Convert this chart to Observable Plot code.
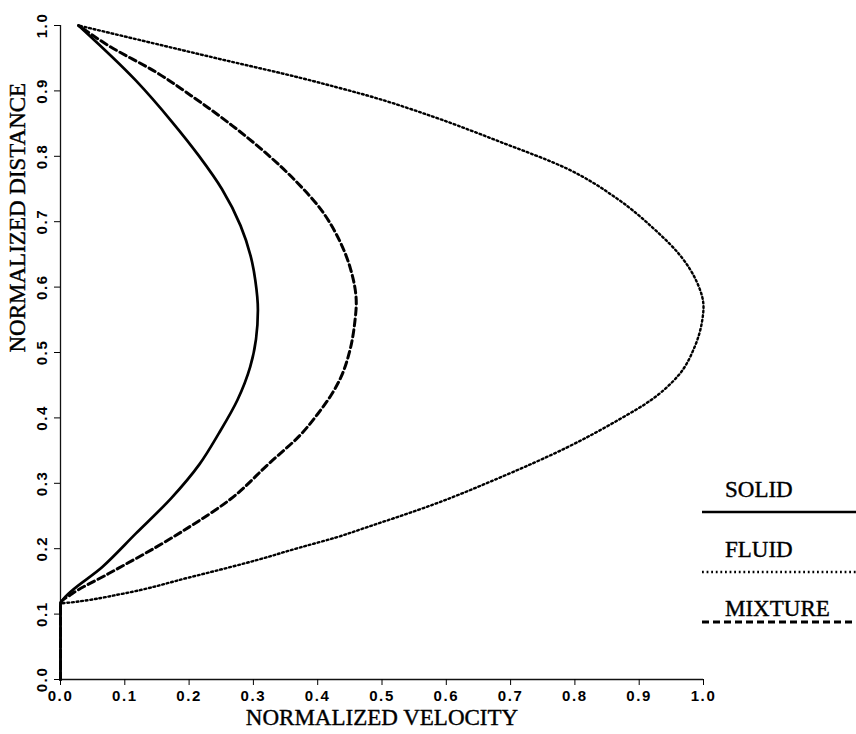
<!DOCTYPE html>
<html><head><meta charset="utf-8">
<script src="https://cdn.jsdelivr.net/npm/d3@7"></script>
<script src="https://cdn.jsdelivr.net/npm/@observablehq/plot@0.6"></script>
<style>
body{margin:0;background:#fff;}
#wrap{position:relative;width:856px;height:734px;overflow:hidden;}
#legend{position:absolute;left:0;top:0;pointer-events:none;}
</style></head><body><div id="wrap"></div>
<script>
const xTicks = [0, 0.1, 0.2, 0.3, 0.4, 0.5, 0.6, 0.7, 0.8, 0.9, 1.0];
const yTicks = [0, 0.1, 0.2, 0.3, 0.4, 0.5, 0.6, 0.7, 0.8, 0.9, 1.0];
const xTitle = "NORMALIZED VELOCITY";
const yTitle = "NORMALIZED DISTANCE";
const seriesNames = ["SOLID", "FLUID", "MIXTURE"];

const solidV = [0, 0, 0.003, 0.065, 0.117, 0.172, 0.216, 0.246, 0.275, 0.295, 0.304, 0.307, 0.303, 0.298, 0.280, 0.251, 0.215, 0.174, 0.117, 0.028];
const solidY = [0, 0.116, 0.121, 0.172, 0.223, 0.277, 0.329, 0.376, 0.427, 0.478, 0.520, 0.565, 0.610, 0.638, 0.694, 0.750, 0.801, 0.852, 0.916, 1.0];

const fluidV = [0, 0, 0.018, 0.096, 0.200, 0.303, 0.373, 0.428, 0.477, 0.581, 0.684, 0.788, 0.866, 0.918, 0.961, 0.986, 0.998, 1.0, 0.990, 0.964, 0.923, 0.866, 0.788, 0.684, 0.581, 0.477, 0.428, 0.373, 0.251, 0.148, 0.028];
const fluidY = [0, 0.116, 0.118, 0.131, 0.156, 0.182, 0.202, 0.217, 0.233, 0.268, 0.309, 0.355, 0.396, 0.427, 0.465, 0.508, 0.549, 0.570, 0.607, 0.648, 0.689, 0.735, 0.781, 0.822, 0.860, 0.893, 0.906, 0.920, 0.948, 0.972, 1.0];

const mixtureV = [0, 0, 0.018, 0.075, 0.148, 0.200, 0.262, 0.324, 0.375, 0.400, 0.421, 0.436, 0.450, 0.458, 0.460, 0.451, 0.435, 0.404, 0.368, 0.324, 0.267, 0.210, 0.148, 0.075, 0.028];
const mixtureY = [0, 0.116, 0.131, 0.162, 0.202, 0.233, 0.274, 0.330, 0.376, 0.406, 0.435, 0.462, 0.503, 0.549, 0.575, 0.628, 0.669, 0.720, 0.760, 0.801, 0.847, 0.888, 0.929, 0.969, 1.0];

const styles = {
  SOLID:   {strokeWidth: 2.7, strokeDasharray: null},
  FLUID:   {strokeWidth: 2.4, strokeDasharray: "1.8,2.8"},
  MIXTURE: {strokeWidth: 3.0, strokeDasharray: "7,4"}
};

const rows = [
  ...solidV.map((v, i) => ({series: "SOLID", v, y: solidY[i]})),
  ...fluidV.map((v, i) => ({series: "FLUID", v, y: fluidY[i]})),
  ...mixtureV.map((v, i) => ({series: "MIXTURE", v, y: mixtureY[i]}))
];

const titleFont = {fontFamily: "Liberation Serif, Times New Roman, serif", fontSize: 23};
const tickFont = {fontFamily: "Liberation Sans, Arial, sans-serif", fontSize: 15, fontWeight: "bold"};

const lineMarks = seriesNames.map(name => Plot.line(rows.filter(d => d.series === name), {
  x: "v", y: "y", stroke: "black", curve: "monotone-y",
  strokeWidth: styles[name].strokeWidth,
  strokeDasharray: styles[name].strokeDasharray
}));

const plot = Plot.plot({
  width: 856, height: 734,
  marginLeft: 60, marginRight: 153, marginTop: 25, marginBottom: 55,
  x: {domain: [0, 1]},
  y: {domain: [0, 1]},
  style: {background: "white", color: "black", overflow: "visible"},
  marks: [
    Plot.ruleX([0], {stroke: "#111", strokeWidth: 1.3}),
    Plot.ruleY([0], {stroke: "#111", strokeWidth: 1.3}),
    Plot.axisX({ticks: xTicks, tickSize: 6, tickPadding: 5, tickFormat: d3.format(".1f"), label: null, ...tickFont}),
    Plot.axisY({ticks: yTicks, tickSize: 6, tickPadding: 8, tickRotate: -90, tickFormat: d3.format(".1f"), label: null, ...tickFont}),
    ...lineMarks,
    Plot.text([xTitle], {text: d => d, frameAnchor: "bottom", dy: 45, fill: "black", stroke: "black", strokeWidth: 0.4, ...titleFont}),
    Plot.text([yTitle], {text: d => d, frameAnchor: "left", dx: -43, rotate: -90, fill: "black", stroke: "black", strokeWidth: 0.4, ...titleFont})
  ]
});
const wrap = document.getElementById("wrap");
wrap.appendChild(plot);
d3.select(plot).selectAll('g[aria-label$="tick label"] text').style("letter-spacing", "1.6px");

// legend
const legendRows = [
  {name: "SOLID", textY: 497, lineY: 512},
  {name: "FLUID", textY: 557, lineY: 572},
  {name: "MIXTURE", textY: 616, lineY: 622}
];
const svg = d3.select(wrap).append("svg").attr("id", "legend").attr("width", 856).attr("height", 734);
for (const r of legendRows) {
  svg.append("text").attr("x", 725).attr("y", r.textY)
    .attr("font-family", titleFont.fontFamily).attr("font-size", titleFont.fontSize)
    .attr("fill", "black").attr("stroke", "black").attr("stroke-width", 0.4).text(r.name);
  svg.append("line").attr("x1", 702).attr("x2", 856).attr("y1", r.lineY).attr("y2", r.lineY)
    .attr("stroke", "black").attr("stroke-width", styles[r.name].strokeWidth)
    .attr("stroke-dasharray", styles[r.name].strokeDasharray);
}
</script></body></html>
